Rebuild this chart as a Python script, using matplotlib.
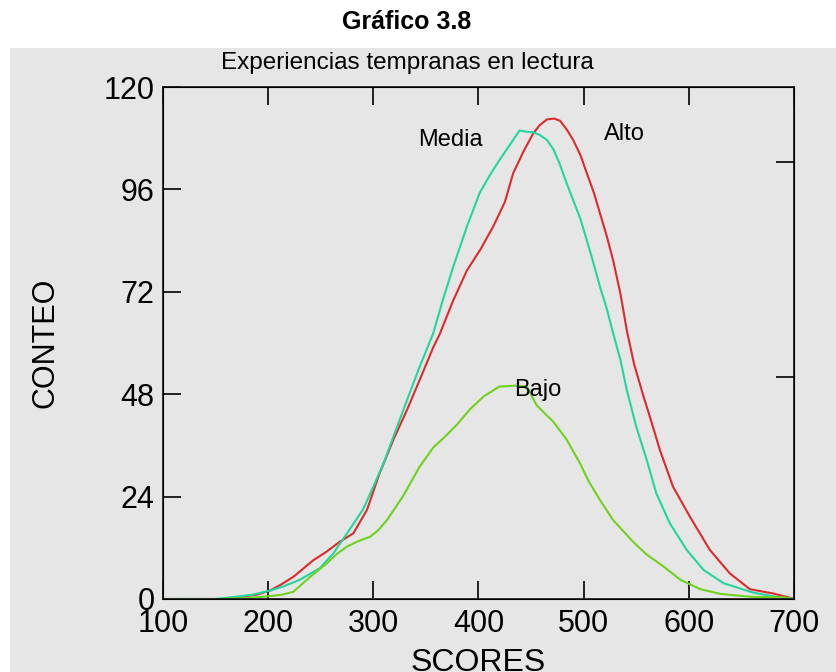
import numpy as np
import matplotlib.pyplot as plt
from matplotlib.patches import Rectangle

plt.rcParams['font.family'] = ['Liberation Sans', 'DejaVu Sans']

# Curvas (SCORES, CONTEO)
alto_x = [100, 150, 155, 170, 189, 202, 213, 224, 243, 255, 268, 281, 294, 306,
          319, 332, 344, 357, 363, 376, 389, 402, 414, 425, 433, 443, 452, 458,
          465, 472, 477.5, 484, 490, 497, 503, 510, 515.5, 522, 528, 535, 541,
          548, 557, 563, 572.5, 585, 601, 620, 639, 658, 680, 699]
alto_y = [0, 0, 0, 0.4, 1, 2, 3.5, 5.2, 9.1, 11, 13.4, 15.4, 20.9, 29.5,
          37.3, 44.3, 51.3, 59, 62, 70, 77, 82, 87.3, 93, 99.8, 105, 109.1, 111,
          112.4, 112.6, 112.1, 110, 107.6, 104, 99.8, 95, 90.4, 85, 79.4, 71.5, 63,
          55, 47.4, 42.7, 34.9, 26.3, 19.3, 11.5, 6, 2.3, 1.3, 0.1]

media_x = [100, 150, 165, 185, 202, 215, 230, 249, 262, 275, 290, 300, 310, 319,
           332, 344, 357, 366, 376, 389, 401, 410, 420, 430, 439, 446, 452, 458,
           465, 471, 477, 483, 490, 497, 503, 509, 515.5, 522, 528, 535, 541, 550,
           560, 569, 582, 598, 614, 633, 661, 690, 700]
media_y = [0, 0, 0.4, 1, 2, 3, 4.5, 7.2, 10.7, 15.4, 20.9, 26.3, 32, 38,
           46.6, 54.4, 62.3, 70, 77.9, 87.3, 95.1, 99, 102.9, 106.5, 109.8, 109.5,
           109.4, 108.8, 107.6, 105.5, 102.1, 98, 93.5, 89, 84.1, 79, 73.2, 68,
           62.3, 56, 49, 40.4, 32.6, 24.8, 17.7, 11.5, 6.8, 3.7, 1.5, 0.2, 0]

bajo_x = [100, 150, 180, 202, 213, 224, 240, 256, 265, 275, 286, 297, 305, 313,
          328, 344, 357, 368, 380, 392, 405, 420, 435, 446, 455, 463, 471, 484,
          496.5, 505, 515.5, 528, 547, 560, 576, 592, 611, 630, 642, 660, 690, 700]
bajo_y = [0, 0, 0.2, 0.7, 1, 1.7, 5.2, 8.4, 10.5, 12.3, 13.6, 14.6, 16.2, 18.5,
          24, 31, 35.5, 38, 41, 44.5, 47.5, 49.8, 50, 49.8, 45.5, 43.5, 41.6, 37.3,
          31.8, 27.5, 23.2, 18.5, 13.4, 10.4, 7.6, 4.5, 2.3, 1.2, 0.9, 0.5, 0.4, 0]

xticks = [100, 200, 300, 400, 500, 600, 700]
yticks = [0, 24, 48, 72, 96, 120]

gris = '#e6e6e6'

fig = plt.figure(figsize=(8.37, 6.72), dpi=100)
fig.patches.append(Rectangle((10/837, 0), 1, 1 - 48/672, transform=fig.transFigure,
                             facecolor=gris, edgecolor='none', zorder=-10))

ax = fig.add_axes([163/837, 73/672, 631/837, 512/672])
ax.set_facecolor(gris)

ax.plot(alto_x, alto_y, color='#dd2a2a', lw=1.5)
ax.plot(media_x, media_y, color='#22d6a0', lw=1.5)
ax.plot(bajo_x, bajo_y, color='#6ed21e', lw=1.5)

ax.set_xlim(100, 700)
ax.set_ylim(0, 120)
ax.set_xticks(xticks)
ax.set_yticks(yticks)
ax.tick_params(axis='both', direction='in', length=13, width=1.2,
               labelsize=22, colors='black')
ax.tick_params(axis='x', top=True, pad=7)
ax.tick_params(axis='y', pad=6)
for s in ax.spines.values():
    s.set_linewidth(1.3)
    s.set_color('#222222')

# marcas del eje derecho
ax2 = ax.twinx()
ax2.set_ylim(0, 120)
ax2.set_yticks([52, 102.5])
ax2.tick_params(axis='y', direction='in', length=13, width=1.2, labelright=False)

ax.set_xlabel('SCORES', fontsize=23)
ax.xaxis.set_label_coords(0.5, -0.095)
ax.set_ylabel('CONTEO', fontsize=22)
ax.yaxis.set_label_coords(-0.163, 0.5)

ax.text(373, 107.6, 'Media', fontsize=17, ha='center', va='center')
ax.text(539, 109, 'Alto', fontsize=17, ha='center', va='center')
ax.text(456, 49, 'Bajo', fontsize=17, ha='center', va='center')

fig.text(407/837, 1 - 22/672, 'Gráfico 3.8', fontsize=18, fontweight='bold',
         ha='center', va='center')
fig.text(407/837, 1 - 63/672, 'Experiencias tempranas en lectura', fontsize=17.5,
         ha='center', va='center')

fig.savefig('out.png', dpi=100)
